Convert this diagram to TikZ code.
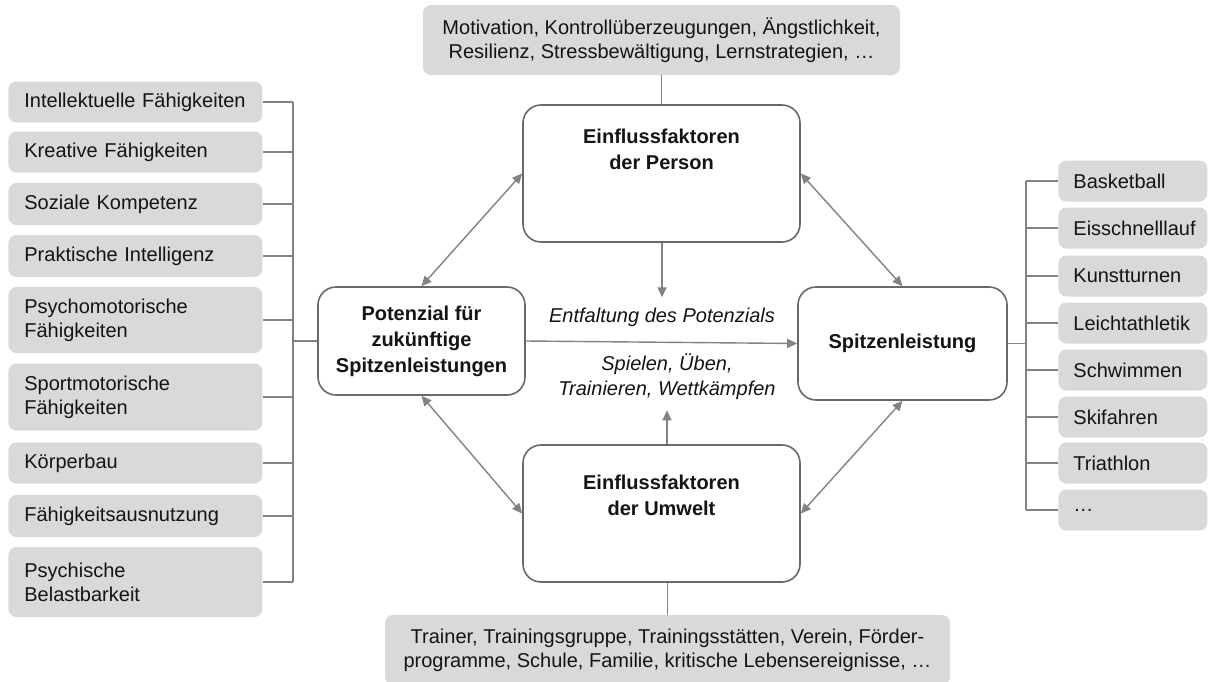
\documentclass[tikz,border=0pt]{standalone}
\usepackage{fontspec}
\setmainfont{Liberation Sans}
\usetikzlibrary{arrows.meta,positioning}
\definecolor{cBox}{RGB}{217,217,217}
\definecolor{cFrame}{RGB}{105,105,105}
\definecolor{cLine}{RGB}{130,130,130}
\definecolor{cText}{RGB}{20,20,20}
\hyphenpenalty=10000

\tikzset{
  txt/.style={font=\fontsize{10}{12}\selectfont, text=cText},
  graybox/.style={txt, fill=cBox, rounded corners=4pt, inner ysep=0pt},
  leftbox/.style={graybox, anchor=west, inner xsep=8pt, text width=111pt, align=left},
  rightbox/.style={graybox, anchor=west, inner xsep=7.5pt, text width=59.5pt, align=left, minimum height=20.5pt},
  mainbox/.style={draw=cFrame, line width=0.8pt, rounded corners=9pt, fill=white, text=cText,
    font=\fontsize{10}{13}\selectfont\bfseries, align=center},
  titletext/.style={text=cText, font=\fontsize{10}{13}\selectfont\bfseries, align=center, inner sep=0pt},
  ittext/.style={text=cText, font=\fontsize{10}{12.5}\selectfont\itshape, align=center, inner sep=5pt},
  conn/.style={draw=cLine, line width=0.7pt},
  arr/.style={conn, -{Triangle[length=5pt,width=4.5pt]}},
  dblarr/.style={conn, {Triangle[length=5pt,width=4.5pt]}-{Triangle[length=5pt,width=4.5pt]}},
}

\begin{document}
\begin{tikzpicture}[x=0.5pt, y=-0.5pt]
  \useasboundingbox (0,0) rectangle (1210,681);
  % Main boxes
  \node[mainbox, minimum width=103.5pt, minimum height=54pt] (pot) at (421.5,341)
    {Potenzial für\\zukünftige\\Spitzenleistungen};
  \node[mainbox, minimum width=138.5pt, minimum height=68.5pt] (pers) at (661.5,173.5) {};
  \node[titletext, below=12pt of pers.north] (persT) {Einflussfaktoren\\der Person};
  \node[mainbox, minimum width=138.5pt, minimum height=68.5pt] (umw) at (661.5,513.5) {};
  \node[titletext, below=15pt of umw.north] (umwT) {Einflussfaktoren\\der Umwelt};
  \node[mainbox, minimum width=104.5pt, minimum height=56.5pt] (spitze) at (902.5,343.5)
    {Spitzenleistung};
  % Grey lists top and bottom
  \node[graybox, align=center, minimum width=238.5pt, minimum height=35pt] (topg) at (661.5,40)
    {Motivation, Kontrollüberzeugungen, Ängstlichkeit,\\Resilienz, Stressbewältigung, Lernstrategien, \ldots};
  \node[graybox, align=center, minimum width=282.5pt, minimum height=35pt] (botg) at (667.5,650)
    {Trainer, Trainingsgruppe, Trainingsstätten, Verein, Förder-\\programme, Schule, Familie, kritische Lebensereignisse, \ldots};
  % Middle texts
  \node[ittext] (entf) at (662,317) {Entfaltung des Potenzials};
  \node[ittext] (spiel) at (667,377) {Spielen, Üben,\\Trainieren, Wettkämpfen};
  % Left list
  \foreach \i/\y/\h/\txt in {1/102/20.5pt/{Intellektuelle Fähigkeiten},
      2/152/20.5pt/{Kreative Fähigkeiten}, 3/204/21pt/{Soziale Kompetenz},
      4/256/21pt/{Praktische Intelligenz}, 5/320/33pt/{Psychomotorische\\Fähigkeiten},
      6/397/33.5pt/{Sportmotorische\\Fähigkeiten}, 7/463/20.5pt/{Körperbau},
      8/516/21pt/{Fähigkeitsausnutzung}, 9/582/35pt/{Psychische\\Belastbarkeit}}
    \node[leftbox, minimum height=\h] (l\i) at (8,\y) {\txt};
  % Right list
  \foreach \i/\y/\txt in {1/181/Basketball, 2/228/Eisschnelllauf, 3/276/Kunstturnen,
      4/323/Leichtathletik, 5/370/Schwimmen, 6/417/Skifahren, 7/463/Triathlon, 8/510/{\ldots}}
    \node[rightbox] (r\i) at (1058,\y) {\txt};
  % Brackets
  \coordinate (brkL) at (293,341);
  \coordinate (brkR) at (1026,345);
  \foreach \i in {1,...,9}
    \draw[conn] (l\i.east) -- (l\i.east -| brkL);
  \draw[conn] (l1.east -| brkL) -- (l9.east -| brkL);
  \draw[conn] (pot.west) -- (pot.west -| brkL);
  \foreach \i in {1,...,8}
    \draw[conn] (r\i.west) -- (r\i.west -| brkR);
  \draw[conn] (r1.west -| brkR) -- (r8.west -| brkR);
  \draw[conn] (spitze.east) -- (spitze.east -| brkR);
  % Connectors
  \draw[conn] (topg.south) -- (pers.north);
  \draw[conn] (botg.north) -- (botg.north |- umw.south);
  \draw[dblarr] (pot.north) -- (pers.west);
  \draw[dblarr] (pot.south) -- (umw.west);
  \draw[dblarr] (pers.east) -- (spitze.north);
  \draw[dblarr] (umw.east) -- (spitze.south);
  \draw[arr] (pot.east) -- (spitze.west);
  \draw[arr] (pers.south -| entf.north) -- (entf.north);
  \draw[arr] (umw.north -| spiel.south) -- (spiel.south);
\end{tikzpicture}
\end{document}
